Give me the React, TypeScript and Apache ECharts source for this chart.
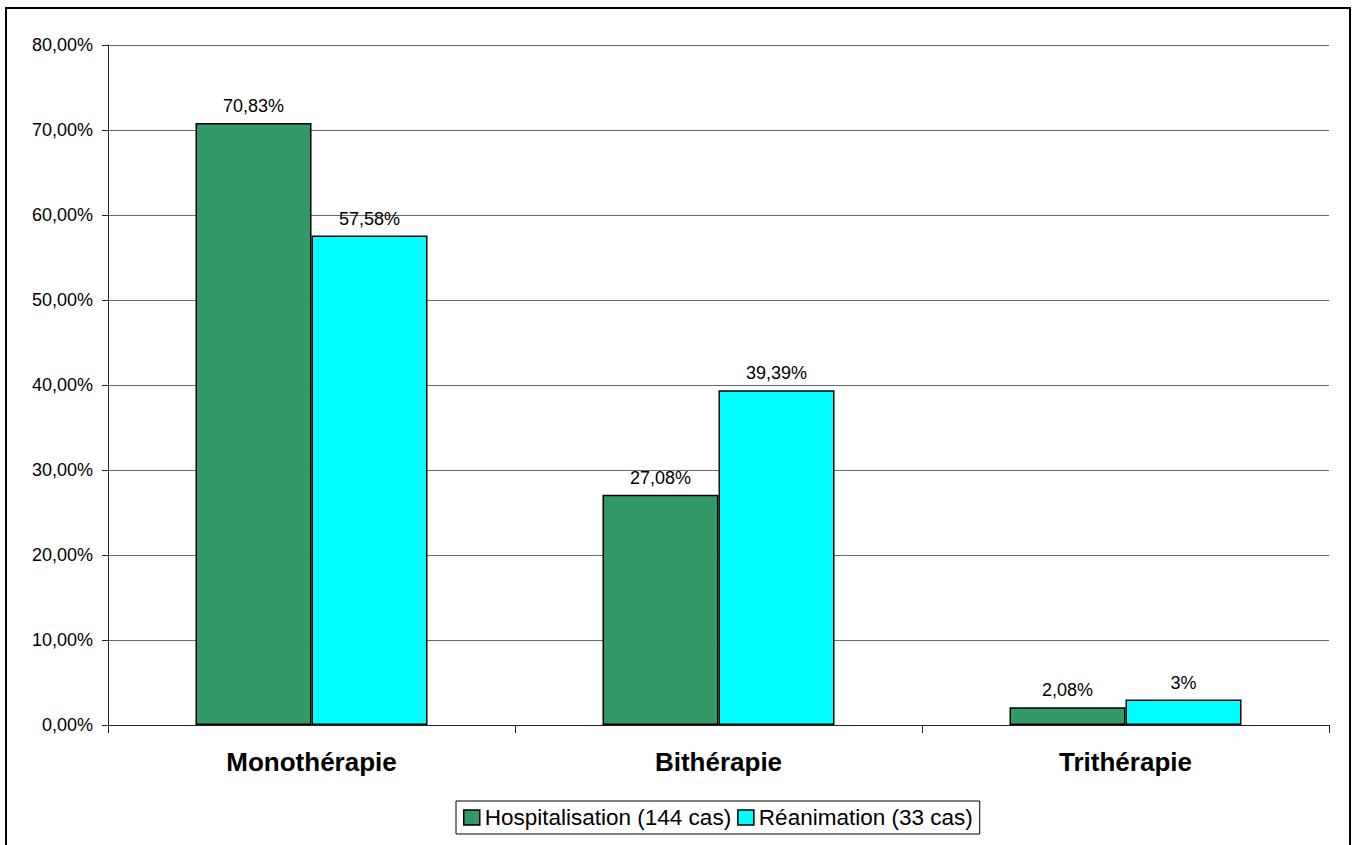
import React, { useEffect, useRef } from "react";
import * as echarts from "echarts";

// Treatment categories and the share of cases in each group (percent)
const categories = ["Monothérapie", "Bithérapie", "Trithérapie"];
const hospitalisation = [70.83, 27.08, 2.08];
const reanimation = [57.58, 39.39, 3];
const seriesNames = ["Hospitalisation (144 cas)", "Réanimation (33 cas)"];
const yTicks = [0, 10, 20, 30, 40, 50, 60, 70, 80];

const FONT = "'Liberation Sans', Arial, Helvetica, sans-serif";

const fmtAxis = (v: number) => v.toFixed(2).replace(".", ",") + "%";
const fmtLabel = (v: number) =>
  Number.isInteger(v) ? `${v}%` : v.toFixed(2).replace(".", ",") + "%";

export default function App() {
  const ref = useRef<HTMLDivElement>(null);

  useEffect(() => {
    if (!ref.current) return;
    const chart = echarts.init(ref.current, undefined, { renderer: "svg" });

    const barLabel = {
      show: true,
      position: "top",
      distance: 8,
      color: "#000",
      fontFamily: FONT,
      fontSize: 18,
      formatter: (p: any) => fmtLabel(p.value),
    };

    chart.setOption({
      animation: false,
      backgroundColor: "#fff",
      grid: { left: 108, right: 29, top: 45, bottom: 120, containLabel: false },
      legend: {
        left: 456,
        top: 801,
        padding: [5, 7, 5, 7],
        itemGap: 6,
        itemWidth: 16,
        itemHeight: 15,
        borderColor: "#000",
        borderWidth: 1,
        icon: "rect",
        itemStyle: { borderColor: "#000", borderWidth: 1.5 },
        textStyle: { fontFamily: FONT, fontSize: 22.5, color: "#000", padding: [0, 0, 0, 0] },
        data: seriesNames,
      },
      xAxis: {
        type: "category",
        data: categories,
        axisLine: { lineStyle: { color: "#222", width: 1 } },
        axisTick: { show: true, length: 8, inside: false, lineStyle: { color: "#222" } },
        axisLabel: {
          margin: 24,
          color: "#000",
          fontFamily: FONT,
          fontWeight: "bold",
          fontSize: 26,
        },
        splitLine: { show: false },
      },
      yAxis: {
        type: "value",
        min: yTicks[0],
        max: yTicks[yTicks.length - 1],
        interval: 10,
        axisLine: { show: true, lineStyle: { color: "#222", width: 1 } },
        axisTick: { show: true, length: 6, lineStyle: { color: "#222" } },
        axisLabel: {
          margin: 15,
          color: "#000",
          fontFamily: FONT,
          fontSize: 18,
          formatter: (v: number) => fmtAxis(v),
        },
        splitLine: { show: true, lineStyle: { color: "#6a6a6a", width: 1 } },
      },
      series: [
        {
          name: seriesNames[0],
          type: "bar",
          data: hospitalisation,
          barGap: "0%",
          barCategoryGap: "43%",
          itemStyle: { color: "#339966", borderColor: "#000", borderWidth: 1.5 },
          label: barLabel,
        },
        {
          name: seriesNames[1],
          type: "bar",
          data: reanimation,
          barGap: "0%",
          barCategoryGap: "43%",
          itemStyle: { color: "#00ffff", borderColor: "#000", borderWidth: 1.5 },
          label: barLabel,
        },
      ],
      graphic: [
        {
          type: "rect",
          shape: { x: 6, y: 8, width: 1344, height: 845 },
          style: { fill: "none", stroke: "#000", lineWidth: 2 },
          silent: true,
        },
      ],
    });

    return () => chart.dispose();
  }, []);

  return (
    <div
      ref={ref}
      style={{ position: "fixed", left: 0, top: 0, width: 1358, height: 845 }}
    />
  );
}
